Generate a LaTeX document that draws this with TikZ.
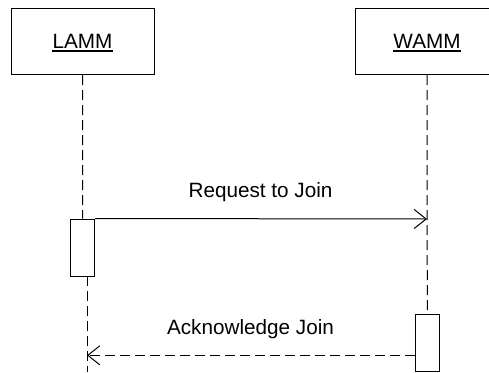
\documentclass[tikz,border=0pt]{standalone}
\usepackage{fontspec}
\setmainfont{Liberation Sans}
\usetikzlibrary{arrows.meta,calc}
\begin{document}
\begin{tikzpicture}[x=1pt,y=-1pt, line width=1pt,
  obj/.style={draw, minimum width=143pt, minimum height=66pt, inner sep=0pt},
  act/.style={draw, fill=white, minimum width=24pt, inner sep=0pt},
  lbl/.style={font=\fontsize{20.7}{24}\selectfont, inner sep=0pt, anchor=base},
  life/.style={dash pattern=on 10pt off 5pt},
  msg/.style={-{Straight Barb[length=12pt,width=19pt]}},
]
\useasboundingbox (0,0) rectangle (489,372);
% objects
\node[obj] (lammbox) at (82.5,41.5) {};
\node[obj] (wammbox) at (427,41.5) {};
\node[lbl] (lammt) at (82.5,48) {LAMM};
\node[lbl] (wammt) at (427,48) {WAMM};
\draw[line width=1.2pt] ($(lammt.base west)+(0,3)$) -- ($(lammt.base east)+(0,3)$);
\draw[line width=1.2pt] ($(wammt.base west)+(0,3)$) -- ($(wammt.base east)+(0,3)$);
% activations
\node[act, minimum height=57pt] (lact) at (82.7,247.5) {};
\node[act, minimum height=57pt] (wact) at (427.3,342.8) {};
% lifelines
\coordinate (lamtop) at (82.7,75);
\coordinate (lambot1) at (87,276);
\coordinate (lambot2) at (87,372);
\draw[life] (lammbox.south) -- (lact.north);
\draw[life] (lambot1) -- (lambot2);
\draw[life] (wammbox.south) -- (wact.north);
% messages
\coordinate (reqend) at (427,219);
\coordinate (ackstart) at (415.3,355.3);
\coordinate (ackend) at (87,355.3);
\draw[msg] (lact.north east) -- (reqend);
\draw[msg, dash pattern=on 10pt off 5pt] (ackstart) -- (ackend);
\node[lbl] (req) at (260.5,197) {Request to Join};
\node[lbl] (ack) at (250.5,334) {Acknowledge Join};
\end{tikzpicture}
\end{document}
